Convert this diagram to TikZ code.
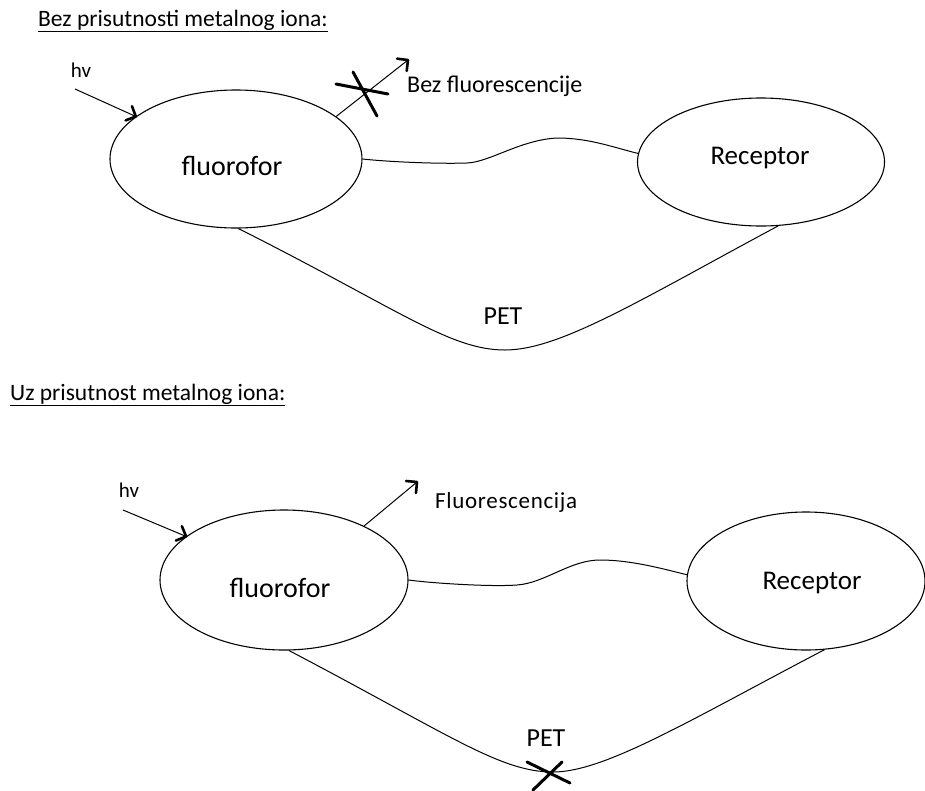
\documentclass[tikz,border=0pt]{standalone}
\usepackage{fontspec}
\setmainfont{Carlito}
\usetikzlibrary{shapes.geometric,calc}
\begin{document}
\begin{tikzpicture}[x=1pt,y=-1pt,
  ell/.style={draw, ellipse, line width=1.1pt, inner sep=0pt},
  thinline/.style={line width=1pt},
  headstroke/.style={line width=2.6pt, line cap=round, line join=round},
  crossmark/.style={line width=3pt, line cap=round},
  ttl/.style={font=\fontsize{23.5}{27}\selectfont, anchor=base west, inner sep=0pt},
  bigf/.style={font=\fontsize{28}{32}\selectfont, inner sep=0pt},
  recf/.style={font=\fontsize{27}{31}\selectfont, inner sep=0pt},
  petf/.style={font=\fontsize{26}{30}\selectfont, inner sep=0pt},
  hvf/.style={font=\fontsize{21}{25}\selectfont, inner sep=0pt},
  emf/.style={font=\fontsize{24}{28}\selectfont, anchor=west, inner sep=0pt}
]
\useasboundingbox (0,0) rectangle (925,790);

% titles
\node[ttl] (t1) at (38,26) {\underline{Bez prisutnosti metalnog iona:}};
\node[ttl] (t2) at (10,400) {\underline{Uz prisutnost metalnog iona:}};

% ---------- top diagram ----------
\node[ell, minimum width=252pt, minimum height=138pt,
      label={[name=fl1t, bigf, xshift=-4pt, yshift=-7pt]center:fluorofor}] (fl1) at (236,159) {};
\node[ell, minimum width=247pt, minimum height=128pt,
      label={[name=rec1t, recf, xshift=-1pt, yshift=4pt]center:Receptor}] (rec1) at (761,162) {};

\node[hvf] (hv1) at (81,70) {hv};
\coordinate (hv1s) at (75,89);
\coordinate (hv1e) at (fl1.157);
\draw[thinline] (hv1s) -- (hv1e);
\draw[headstroke] ($(hv1e)!11pt!45:(hv1s)$) -- (hv1e) -- ($(hv1e)!11pt!-45:(hv1s)$);

\coordinate (em1) at (408,60);
\coordinate (em1s) at (fl1.23);
\draw[thinline] (em1s) -- (em1);
\draw[headstroke] ($(em1)!11pt!45:(em1s)$) -- (em1) -- ($(em1)!11pt!-45:(em1s)$);
\draw[crossmark] (336,84) -- (388,94);
\draw[crossmark] (353,72) -- (377,116);
\node[emf] (bf1) at (407,86) {Bez fluorescencije};

\draw[thinline] (fl1.east) .. controls (390,162) and (440,164) .. (467,163)
  .. controls (490,162) and (520,140) .. (557,138)
  .. controls (590,138) and (615,148) .. (rec1.176);

\draw[thinline] (fl1.-88) .. controls (400,310) and (450,350) .. (505,350)
  .. controls (560,350) and (640,300) .. (rec1.-75);
\node[petf] (pet1) at (503,316) {PET};

% ---------- bottom diagram ----------
\node[ell, minimum width=248pt, minimum height=140pt,
      label={[name=fl2t, bigf, xshift=-4pt, yshift=-8pt]center:fluorofor}] (fl2) at (284,580) {};
\node[ell, minimum width=238pt, minimum height=138pt,
      label={[name=rec2t, recf, xshift=6pt, yshift=-2pt]center:Receptor}] (rec2) at (806,581) {};

\node[hvf] (hv2) at (129,490) {hv};
\coordinate (hv2s) at (123,510);
\coordinate (hv2e) at (fl2.156);
\draw[thinline] (hv2s) -- (hv2e);
\draw[headstroke] ($(hv2e)!11pt!45:(hv2s)$) -- (hv2e) -- ($(hv2e)!11pt!-45:(hv2s)$);

\coordinate (em2) at (417,482);
\coordinate (em2s) at (fl2.34);
\draw[thinline] (em2s) -- (em2);
\draw[headstroke] ($(em2)!11pt!45:(em2s)$) -- (em2) -- ($(em2)!11pt!-45:(em2s)$);
\node[emf, font=\fontsize{23}{27}\selectfont\addfontfeature{LetterSpace=3}] (fl2e) at (435,502) {Fluorescencija};

\draw[thinline] (fl2.east) .. controls (430,583) and (490,587) .. (517,585)
  .. controls (545,583) and (570,560) .. (600,560)
  .. controls (630,560) and (660,568) .. (rec2.177);

\draw[thinline] (fl2.-86) .. controls (450,735) and (500,772) .. (553,772)
  .. controls (605,772) and (690,720) .. (rec2.-75);
\node[petf] (pet2) at (546,738) {PET};
\draw[crossmark] (527,762) -- (570,783);
\draw[crossmark] (562,762) -- (533,790);
\end{tikzpicture}
\end{document}
